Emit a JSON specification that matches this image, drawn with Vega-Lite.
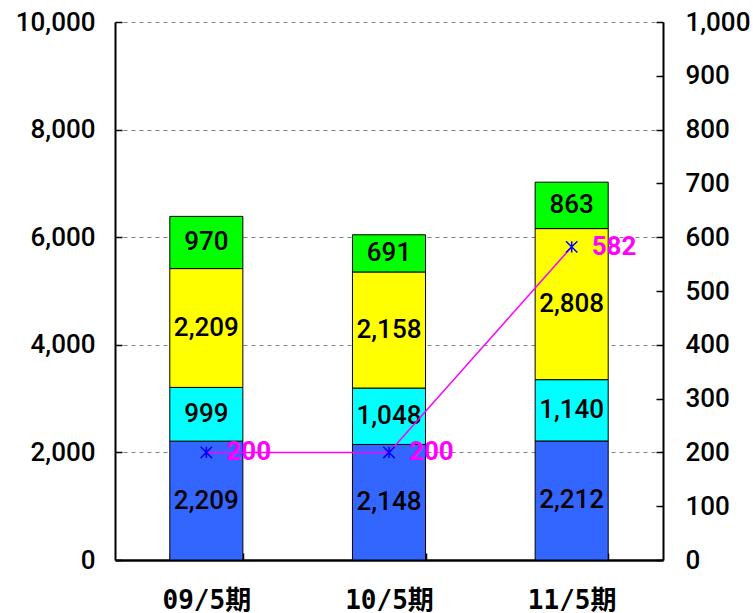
{
  "$schema": "https://vega.github.io/schema/vega-lite/v6.json",
  "width": 548,
  "height": 538,
  "autosize": {"type": "none"},
  "padding": {"left": 115, "top": 22, "right": 90, "bottom": 53},
  "background": "white",
  "config": {
    "view": {"stroke": null},
    "font": "Roboto",
    "axis": {
      "domainColor": "black",
      "domainWidth": 2,
      "tickColor": "black",
      "tickWidth": 1.5,
      "labelColor": "black",
      "labelFont": "Roboto",
      "labelFontWeight": 500,
      "labelFontSize": 26,
      "title": null
    }
  },
  "datasets": {
    "segments": [
      {"period": "09/5期", "segment": "A", "order": 1, "value": 2209},
      {"period": "09/5期", "segment": "B", "order": 2, "value": 999},
      {"period": "09/5期", "segment": "C", "order": 3, "value": 2209},
      {"period": "09/5期", "segment": "D", "order": 4, "value": 970},
      {"period": "10/5期", "segment": "A", "order": 1, "value": 2148},
      {"period": "10/5期", "segment": "B", "order": 2, "value": 1048},
      {"period": "10/5期", "segment": "C", "order": 3, "value": 2158},
      {"period": "10/5期", "segment": "D", "order": 4, "value": 691},
      {"period": "11/5期", "segment": "A", "order": 1, "value": 2212},
      {"period": "11/5期", "segment": "B", "order": 2, "value": 1140},
      {"period": "11/5期", "segment": "C", "order": 3, "value": 2808},
      {"period": "11/5期", "segment": "D", "order": 4, "value": 863}
    ],
    "ratio": [
      {"period": "09/5期", "value": 200},
      {"period": "10/5期", "value": 200},
      {"period": "11/5期", "value": 582}
    ]
  },
  "encoding": {
    "x": {
      "field": "period",
      "type": "nominal",
      "sort": null,
      "scale": {"paddingInner": 0.6, "paddingOuter": 0.3},
      "axis": {
        "labelAngle": 0,
        "labelFont": "DejaVu Sans Mono, Noto Sans CJK JP",
        "labelFontWeight": "bold",
        "labelFontSize": 26,
        "tickBand": "extent",
        "tickSize": -7,
        "labelPadding": 34,
        "domainWidth": 2.5
      }
    }
  },
  "layer": [
    {
      "data": {"name": "segments"},
      "encoding": {
        "y": {
          "field": "value",
          "type": "quantitative",
          "stack": "zero",
          "scale": {"domain": [0, 10000], "nice": false},
          "axis": {
            "orient": "left",
            "values": [0, 2000, 4000, 6000, 8000, 10000],
            "format": ",d",
            "grid": true,
            "gridColor": "#808080",
            "gridDash": [4, 4],
            "gridWidth": 1,
            "tickSize": -7,
            "labelPadding": 27
          }
        },
        "order": {"field": "order", "type": "quantitative"}
      },
      "layer": [
        {
          "mark": {"type": "bar", "stroke": "black", "strokeWidth": 1},
          "encoding": {
            "color": {
              "field": "segment",
              "type": "nominal",
              "scale": {
                "domain": ["A", "B", "C", "D"],
                "range": ["#3366FF", "#00FFFF", "#FFFF00", "#00FF00"]
              },
              "legend": null
            }
          }
        },
        {
          "mark": {
            "type": "text",
            "font": "Roboto",
            "fontWeight": 500,
            "fontSize": 26,
            "color": "black",
            "baseline": "middle",
            "align": "center"
          },
          "encoding": {
            "y": {"field": "value", "type": "quantitative", "stack": "zero", "bandPosition": 0.5},
            "text": {"field": "value", "type": "quantitative", "format": ",d"}
          }
        }
      ]
    },
    {
      "data": {"name": "ratio"},
      "encoding": {
        "y": {
          "field": "value",
          "type": "quantitative",
          "scale": {"domain": [0, 1000], "nice": false},
          "axis": {
            "orient": "right",
            "values": [0, 100, 200, 300, 400, 500, 600, 700, 800, 900, 1000],
            "format": ",d",
            "grid": false,
            "tickSize": -7,
            "labelPadding": 29
          }
        }
      },
      "layer": [
        {
          "mark": {"type": "line", "color": "#FF00FF", "strokeWidth": 1.5}
        },
        {
          "mark": {
            "type": "point",
            "shape": "M-1,-1L1,1M1,-1L-1,1M0,-1L0,1",
            "size": 130,
            "filled": false,
            "stroke": "#0000FF",
            "strokeWidth": 1.5,
            "opacity": 1
          }
        },
        {
          "mark": {
            "type": "text",
            "font": "Roboto",
            "fontWeight": "bold",
            "fontSize": 26,
            "color": "#FF00FF",
            "align": "left",
            "baseline": "middle",
            "dx": 20
          },
          "encoding": {
            "text": {"field": "value", "type": "quantitative", "format": "d"}
          }
        }
      ]
    }
  ],
  "resolve": {"scale": {"y": "independent"}}
}
